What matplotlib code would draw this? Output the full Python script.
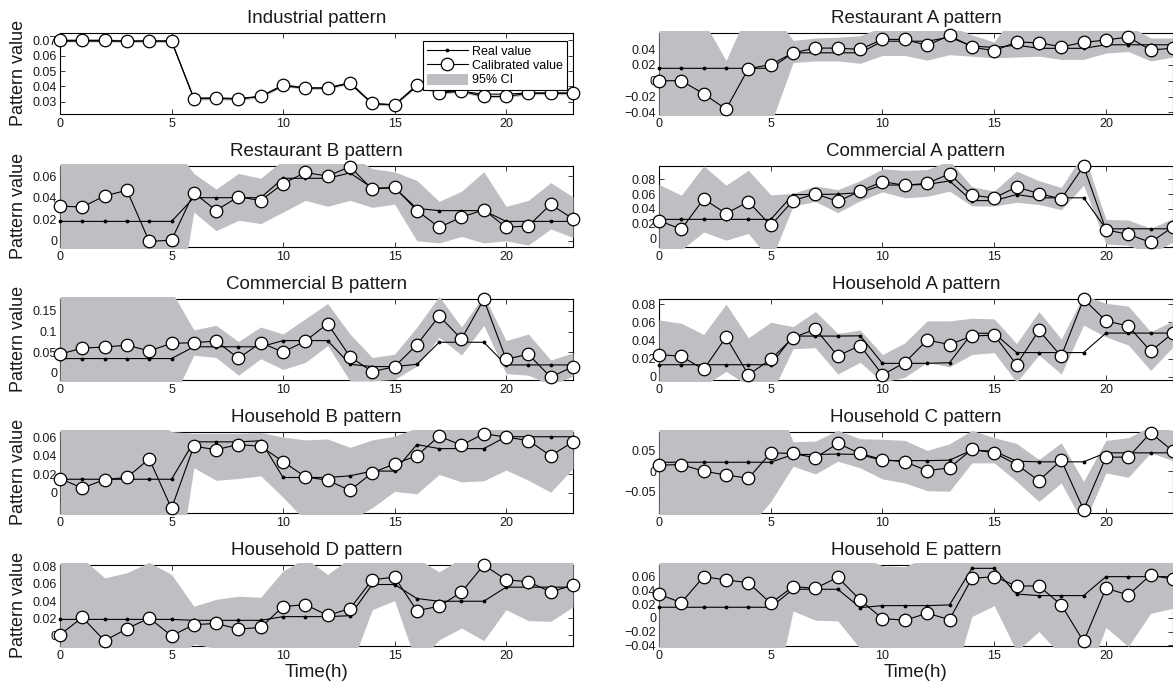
import matplotlib
matplotlib.use('Agg')
import matplotlib.pyplot as plt
from matplotlib.lines import Line2D
from matplotlib.patches import Patch, Rectangle
from matplotlib.ticker import FuncFormatter, FixedLocator

plt.rcParams['font.family'] = ['Liberation Sans', 'DejaVu Sans']

hours = list(range(24))

titles = ['Industrial pattern', 'Restaurant A pattern', 'Restaurant B pattern', 'Commercial A pattern',
          'Commercial B pattern', 'Household A pattern', 'Household B pattern', 'Household C pattern',
          'Household D pattern', 'Household E pattern']

# ---------------- Industrial ----------------
ind_real = [0.0695, 0.0695, 0.0695, 0.0695, 0.0695, 0.0695, 0.0325, 0.0325, 0.0322, 0.0335, 0.0403, 0.039,
            0.039, 0.042, 0.0287, 0.028, 0.0402, 0.0368, 0.0368, 0.035, 0.035, 0.0358, 0.0358, 0.0358]
ind_cal = [0.0700, 0.0700, 0.0700, 0.0695, 0.0697, 0.0695, 0.0320, 0.0322, 0.0318, 0.0335, 0.0410, 0.0390,
           0.0390, 0.0425, 0.0290, 0.0280, 0.0410, 0.0357, 0.0370, 0.0335, 0.0335, 0.0355, 0.0355, 0.0355]
ind_lo = [0.0690, 0.0690, 0.0690, 0.0686, 0.0688, 0.0686, 0.0312, 0.0313, 0.0310, 0.0326, 0.0400, 0.0381,
          0.0381, 0.0415, 0.0280, 0.0271, 0.0400, 0.0349, 0.0360, 0.0326, 0.0326, 0.0346, 0.0346, 0.0346]
ind_hi = [0.0710, 0.0710, 0.0710, 0.0705, 0.0707, 0.0705, 0.0329, 0.0331, 0.0327, 0.0345, 0.0420, 0.0399,
          0.0399, 0.0434, 0.0299, 0.0289, 0.0420, 0.0366, 0.0380, 0.0344, 0.0344, 0.0364, 0.0364, 0.0364]

# ---------------- Restaurant A ----------------
ra_real = [0.0157, 0.0157, 0.0157, 0.0157, 0.0157, 0.0157, 0.0353, 0.0353, 0.0353, 0.0353, 0.0500, 0.0500,
           0.0500, 0.0550, 0.0440, 0.0420, 0.0450, 0.0410, 0.0410, 0.0410, 0.0455, 0.0455, 0.0455, 0.0455]
ra_cal = [0.0, 0.0, -0.0166, -0.036, 0.0153, 0.0204, 0.0353, 0.0413, 0.0413, 0.0396, 0.0523, 0.0523,
          0.0447, 0.0574, 0.0426, 0.0379, 0.0490, 0.0480, 0.0430, 0.0485, 0.0515, 0.0553, 0.0387, 0.0413]
ra_lo = [-0.06, -0.06, -0.06, -0.06, -0.06, -0.055, 0.023, 0.025, 0.025, 0.022, 0.032, 0.032,
         0.026, 0.033, 0.031, 0.029, 0.030, 0.031, 0.027, 0.027, 0.035, 0.037, 0.025, 0.030]
ra_hi = [0.09, 0.09, 0.0754, 0.0255, 0.089, 0.09, 0.051, 0.054, 0.055, 0.057, 0.068, 0.068,
         0.068, 0.07, 0.058, 0.049, 0.09, 0.07, 0.07, 0.07, 0.07, 0.07, 0.054, 0.054]

# ---------------- Restaurant B ----------------
rb_real = [0.018, 0.018, 0.018, 0.018, 0.018, 0.018, 0.040, 0.040, 0.040, 0.040, 0.058, 0.058,
           0.058, 0.063, 0.049, 0.049, 0.030, 0.028, 0.028, 0.028, 0.018, 0.018, 0.018, 0.018]
rb_cal = [0.0322, 0.0313, 0.0416, 0.0469, -0.0006, 0.0006, 0.0447, 0.0281, 0.0410, 0.0372, 0.0531, 0.0634,
          0.0600, 0.0688, 0.0478, 0.0497, 0.0281, 0.0125, 0.0219, 0.0288, 0.0125, 0.0138, 0.0338, 0.0203]
rb_lo = [-0.03, -0.03, -0.03, -0.03, -0.03, -0.096, 0.0266, 0.0094, 0.019, 0.016, 0.0266, 0.0375,
         0.032, 0.0375, 0.031, 0.034, 0.0, -0.002, 0.004, -0.002, 0.0, -0.004, 0.011, 0.003]
rb_hi = [0.09, 0.09, 0.09, 0.09, 0.09, 0.09, 0.0625, 0.048, 0.0625, 0.058, 0.075, 0.08,
         0.08, 0.08, 0.0669, 0.064, 0.056, 0.0366, 0.046, 0.064, 0.032, 0.0375, 0.054, 0.0406]

# ---------------- Commercial A ----------------
ca_real = [0.026, 0.026, 0.026, 0.026, 0.026, 0.026, 0.0594, 0.0594, 0.060, 0.062, 0.0722, 0.0722,
           0.073, 0.0777, 0.0512, 0.0512, 0.0594, 0.055, 0.055, 0.055, 0.0133, 0.0133, 0.0133, 0.0133]
ca_cal = [0.0242, 0.0128, 0.0535, 0.0338, 0.0498, 0.0178, 0.0512, 0.0603, 0.0503, 0.0640, 0.0768, 0.0718,
          0.0745, 0.0873, 0.0585, 0.0549, 0.0695, 0.0608, 0.0535, 0.0975, 0.0119, 0.0059, -0.005, 0.016]
ca_lo = [-0.03, -0.015, 0.009, -0.002, 0.007, -0.03, 0.044, 0.050, 0.035, 0.051, 0.063, 0.055,
         0.057, 0.064, 0.044, 0.044, 0.049, 0.046, 0.039, 0.072, -0.007, -0.009, -0.02, -0.0045]
ca_hi = [0.073, 0.0585, 0.098, 0.072, 0.092, 0.059, 0.061, 0.071, 0.066, 0.078, 0.094, 0.092,
         0.093, 0.105, 0.070, 0.064, 0.091, 0.078, 0.069, 0.115, 0.026, 0.025, 0.014, 0.027]

# ---------------- Commercial B ----------------
cb_real = [0.0344, 0.0344, 0.0344, 0.0344, 0.0344, 0.0344, 0.063, 0.063, 0.063, 0.063, 0.078, 0.078,
           0.078, 0.0205, 0.015, 0.015, 0.0205, 0.074, 0.074, 0.074, 0.019, 0.019, 0.019, 0.019]
cb_cal = [0.045, 0.060, 0.0623, 0.067, 0.053, 0.0713, 0.073, 0.077, 0.035, 0.073, 0.050, 0.077,
          0.119, 0.039, 0.0025, 0.0148, 0.068, 0.1377, 0.082, 0.178, 0.0328, 0.045, -0.0107, 0.0148]
cb_lo = [-0.05, -0.05, -0.05, -0.05, -0.05, -0.071, 0.0426, 0.037, -0.006, 0.034, 0.008, 0.025,
         0.066, -0.02, -0.02, -0.016, 0.016, 0.086, 0.043, 0.115, -0.002, -0.006, -0.03, -0.008]
cb_hi = [0.25, 0.25, 0.25, 0.25, 0.25, 0.198, 0.104, 0.115, 0.076, 0.111, 0.094, 0.131,
         0.168, 0.094, 0.037, 0.045, 0.111, 0.185, 0.111, 0.188, 0.078, 0.094, 0.031, 0.048]

# ---------------- Household A ----------------
ha_real = [0.0133, 0.0133, 0.0133, 0.0133, 0.0133, 0.0133, 0.0449, 0.0449, 0.0449, 0.0452, 0.0148, 0.0148,
           0.0148, 0.0155, 0.048, 0.048, 0.0267, 0.0267, 0.0267, 0.0267, 0.0482, 0.0482, 0.0482, 0.0482]
ha_cal = [0.0245, 0.0226, 0.0081, 0.0438, 0.0022, 0.0193, 0.0430, 0.0527, 0.0230, 0.0345, 0.0022, 0.0156,
          0.0405, 0.0356, 0.0449, 0.0460, 0.0133, 0.0512, 0.0226, 0.0858, 0.0616, 0.0560, 0.0282, 0.0482]
ha_lo = [-0.01, -0.01, -0.01, 0.006, -0.01, -0.02, 0.031, 0.032, 0.003, 0.016, -0.006, -0.0005,
         0.016, 0.011, 0.0245, 0.0267, -0.006, 0.024, 0.003, 0.057, 0.044, 0.035, 0.007, 0.033]
ha_hi = [0.0627, 0.059, 0.0467, 0.0802, 0.043, 0.0601, 0.0553, 0.072, 0.0479, 0.0516, 0.0245, 0.0374,
         0.0616, 0.0616, 0.0646, 0.0638, 0.0367, 0.072, 0.0416, 0.09, 0.081, 0.078, 0.0497, 0.0616]

# ---------------- Household B ----------------
hb_real = [0.0146, 0.0146, 0.0146, 0.0146, 0.0146, 0.0146, 0.0549, 0.0549, 0.0549, 0.0560, 0.0165, 0.0165,
           0.0165, 0.0183, 0.0234, 0.0234, 0.052, 0.0476, 0.0476, 0.0476, 0.0604, 0.0604, 0.0604, 0.0604]
hb_cal = [0.0154, 0.0051, 0.0143, 0.0165, 0.0366, -0.0168, 0.0501, 0.0465, 0.0520, 0.0501, 0.0337, 0.0172,
          0.0135, 0.0026, 0.0216, 0.0311, 0.0399, 0.0611, 0.0512, 0.0637, 0.0600, 0.0563, 0.0399, 0.0549]
hb_lo = [-0.05, -0.05, -0.05, -0.05, -0.05, -0.13, 0.027, 0.0135, 0.0154, 0.0183, -0.0048, -0.03,
         -0.035, -0.03, -0.016, 0.0015, -0.001, 0.0198, 0.0117, 0.013, 0.0245, 0.0135, 0.0007, 0.0263]
hb_hi = [0.08, 0.08, 0.08, 0.08, 0.08, 0.066, 0.064, 0.064, 0.064, 0.065, 0.060, 0.057,
         0.058, 0.049, 0.057, 0.061, 0.07, 0.075, 0.075, 0.075, 0.075, 0.075, 0.075, 0.075]

# ---------------- Household C ----------------
hc_real = [0.022, 0.022, 0.022, 0.022, 0.022, 0.022, 0.041, 0.041, 0.042, 0.041, 0.026, 0.026,
           0.026, 0.027, 0.0516, 0.049, 0.0246, 0.023, 0.023, 0.023, 0.045, 0.045, 0.045, 0.045]
hc_cal = [0.0148, 0.0164, 0.0, -0.009, -0.0172, 0.045, 0.0434, 0.0328, 0.068, 0.0434, 0.0287, 0.023,
          0.0016, 0.0082, 0.0533, 0.045, 0.0164, -0.023, 0.027, -0.094, 0.0344, 0.0344, 0.094, 0.049]
hc_lo = [-0.15, -0.15, -0.15, -0.15, -0.138, -0.074, 0.0123, -0.0066, 0.0246, 0.0082, -0.0189, -0.0287,
         -0.0475, -0.049, 0.0205, 0.0205, -0.0246, -0.074, -0.0287, -0.13, -0.004, -0.0148, 0.045, 0.026]
hc_hi = [0.15, 0.15, 0.15, 0.15, 0.15, 0.212, 0.072, 0.0738, 0.1, 0.0795, 0.078, 0.0754,
         0.051, 0.067, 0.1, 0.082, 0.068, 0.0287, 0.0697, -0.0246, 0.0754, 0.082, 0.11, 0.1]

# ---------------- Household D ----------------
hd_real = [0.0187, 0.0187, 0.0187, 0.0187, 0.0187, 0.0187, 0.0176, 0.0176, 0.0176, 0.0176, 0.0219, 0.0219,
           0.0219, 0.0230, 0.0593, 0.0593, 0.043, 0.0398, 0.0398, 0.0398, 0.0562, 0.0562, 0.0562, 0.0562]
hd_cal = [0.0008, 0.021, -0.0062, 0.0078, 0.0203, -0.0004, 0.0125, 0.014, 0.0074, 0.0094, 0.0336, 0.0359,
          0.0234, 0.0312, 0.0648, 0.0679, 0.0289, 0.034, 0.0504, 0.082, 0.0648, 0.0625, 0.0507, 0.0585]
hd_lo = [-0.02, -0.02, -0.02, -0.02, -0.02, -0.03, -0.01, -0.015, -0.02, -0.02, -0.02, -0.02,
         -0.02, -0.0395, 0.030, 0.0406, -0.034, -0.005, 0.0086, -0.006, 0.030, 0.0172, 0.0164, 0.0332]
hd_hi = [0.09, 0.09, 0.067, 0.073, 0.085, 0.071, 0.034, 0.042, 0.0457, 0.0445, 0.075, 0.09,
         0.071, 0.09, 0.09, 0.09, 0.09, 0.074, 0.09, 0.09, 0.09, 0.09, 0.09, 0.09]

# ---------------- Household E ----------------
he_real = [0.0156, 0.0156, 0.0156, 0.0156, 0.0156, 0.0156, 0.042, 0.042, 0.042, 0.0151, 0.018, 0.018,
           0.018, 0.019, 0.0727, 0.0727, 0.035, 0.0327, 0.0327, 0.0327, 0.0605, 0.0605, 0.0605, 0.0605]
he_cal = [0.0346, 0.0224, 0.0605, 0.0556, 0.0517, 0.0215, 0.0459, 0.0434, 0.0595, 0.0263, -0.001, -0.0034,
          0.0068, -0.0024, 0.058, 0.0605, 0.0468, 0.0468, 0.019, -0.0346, 0.0434, 0.0337, 0.063, 0.0566]
he_lo = [-0.06, -0.06, -0.06, -0.06, -0.06, -0.14, 0.0102, -0.0034, -0.0044, -0.045, -0.06, -0.06,
         -0.06, -0.11, 0.002, 0.018, -0.049, -0.02, -0.0553, -0.1, -0.014, -0.042, 0.0068, 0.014]
he_hi = [0.09, 0.09, 0.09, 0.09, 0.09, 0.09, 0.09, 0.09, 0.09, 0.09, 0.0765, 0.075,
         0.09, 0.09, 0.09, 0.09, 0.09, 0.09, 0.09, 0.09, 0.09, 0.09, 0.09, 0.09]

real_series = [ind_real, ra_real, rb_real, ca_real, cb_real, ha_real, hb_real, hc_real, hd_real, he_real]
cal_series = [ind_cal, ra_cal, rb_cal, ca_cal, cb_cal, ha_cal, hb_cal, hc_cal, hd_cal, he_cal]
lo_series = [ind_lo, ra_lo, rb_lo, ca_lo, cb_lo, ha_lo, hb_lo, hc_lo, hd_lo, he_lo]
hi_series = [ind_hi, ra_hi, rb_hi, ca_hi, cb_hi, ha_hi, hb_hi, hc_hi, hd_hi, he_hi]

y_ticks = [[0.03, 0.04, 0.05, 0.06, 0.07], [-0.04, -0.02, 0, 0.02, 0.04], [0, 0.02, 0.04, 0.06],
           [0, 0.02, 0.04, 0.06, 0.08], [0, 0.05, 0.1, 0.15], [0, 0.02, 0.04, 0.06, 0.08],
           [0, 0.02, 0.04, 0.06], [-0.05, 0, 0.05], [0, 0.02, 0.04, 0.06, 0.08],
           [-0.04, -0.02, 0, 0.02, 0.04, 0.06]]
x_ticks = [0, 5, 10, 15, 20]

# axis ranges (layout)
y_lims = [(0.0224, 0.0748), (-0.0415, 0.0604), (-0.0053, 0.0694), (-0.0105, 0.0978), (-0.0164, 0.179),
          (-0.003, 0.0858), (-0.0212, 0.0655), (-0.1008, 0.0959), (-0.0117, 0.082), (-0.0405, 0.0776)]

W, H = 1173, 684
fig = plt.figure(figsize=(W / 100, H / 100), dpi=100)

col_x = [60, 659]
col_w = [513, 514]
row_top = [33, 166, 299, 432, 565]
ax_h = 80.5

GRAY = '#bebfc2'
TXT = '#1a1a1a'


def fmt(v, pos):
    if abs(v) < 1e-12:
        return '0'
    return ('%g' % round(v, 6)).replace('-', '\u2212')


for i in range(10):
    r, c = divmod(i, 2)
    rect = [col_x[c] / W, 1 - (row_top[r] + ax_h) / H, col_w[c] / W, ax_h / H]
    ax = fig.add_axes(rect)
    ax.set_xlim(0, 23)
    ax.set_ylim(*y_lims[i])
    for sp in ax.spines.values():
        sp.set_linewidth(0.8)
        sp.set_zorder(1.0)
    coll = ax.fill_between(hours, lo_series[i], hi_series[i], color=GRAY, linewidth=0, zorder=2)
    clip = Rectangle((-1.6 / col_w[c], -1.6 / ax_h), 1 + 3.2 / col_w[c], 1 + 3.2 / ax_h,
                     transform=ax.transAxes)
    coll.set_clip_path(clip)
    ax.plot(hours, real_series[i], color='black', lw=0.8, marker='.', ms=3.5, zorder=3, clip_on=False)
    ax.plot(hours, cal_series[i], color='black', lw=0.8, marker='o', ms=9, mfc='white', mec='black',
            mew=0.9, zorder=4, clip_on=False)
    ax.xaxis.set_major_locator(FixedLocator(x_ticks))
    ax.yaxis.set_major_locator(FixedLocator(y_ticks[i]))
    ax.yaxis.set_major_formatter(FuncFormatter(fmt))
    ax.tick_params(direction='in', length=3.5, width=0.6, top=True, right=True, labelsize=9,
                   colors=TXT)
    ax.tick_params(axis='x', pad=3.4)
    ax.tick_params(axis='y', pad=2)
    ax.set_title(titles[i], fontsize=13.5, pad=7.2, color=TXT)
    if c == 0:
        ax.set_ylabel('Pattern value', fontsize=13, color=TXT)
        ax.yaxis.set_label_coords(-0.064, 0.5)
    if r == 4:
        ax.set_xlabel('Time(h)', fontsize=13.5, color=TXT, labelpad=1)
    if i == 0:
        handles = [Line2D([], [], color='black', lw=0.8, marker='.', ms=3.5),
                   Line2D([], [], color='black', lw=0.8, marker='o', ms=9, mfc='white', mec='black',
                          mew=0.9),
                   Patch(facecolor=GRAY, edgecolor='none')]
        leg = ax.legend(handles, ['Real value', 'Calibrated value', '95% CI'], loc='upper right',
                        bbox_to_anchor=(0.988, 0.90), borderaxespad=0, fontsize=9, fancybox=False,
                        framealpha=1, edgecolor='black', handlelength=3.3, handletextpad=0.35,
                        handleheight=1.0, labelspacing=0.12, borderpad=0.3)
        leg.get_frame().set_linewidth(0.8)
        leg.set_zorder(10)

fig.savefig('out.png', dpi=100)
